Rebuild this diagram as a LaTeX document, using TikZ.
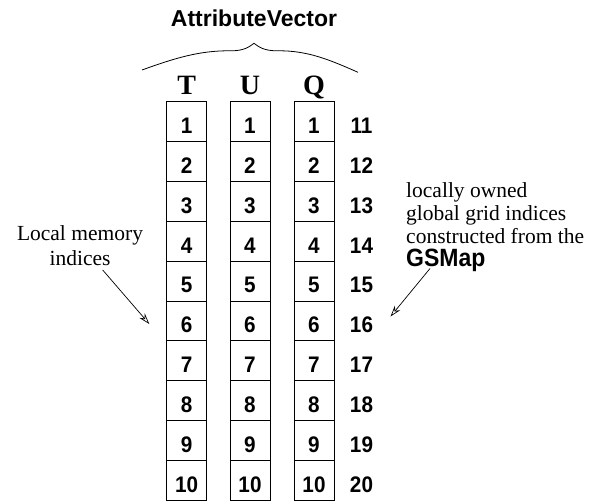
\documentclass[tikz,border=0pt]{standalone}
\usepackage{fontspec}
\setmainfont{Liberation Serif}
\setsansfont{Liberation Sans}
\newfontfamily\narrowsans[FakeStretch=0.92]{Liberation Sans}
\usetikzlibrary{arrows.meta}
\begin{document}
\begin{tikzpicture}[x=1pt,y=-1pt,
  cell/.style={draw, line width=0.9pt, minimum width=40pt, minimum height=39.9pt, inner sep=0pt, outer sep=0pt},
  digit/.style={font=\narrowsans\bfseries\fontsize{22.5}{26}\selectfont, inner sep=0pt, anchor=base},
  head/.style={font=\rmfamily\bfseries\fontsize{28}{32}\selectfont, inner sep=0pt, anchor=base},
  note/.style={font=\rmfamily\fontsize{21.5}{25}\selectfont, inner sep=0pt, anchor=base},
  pointer/.style={line width=0.7pt, -{Stealth[open, length=11pt, width=7pt]}}]
\useasboundingbox (0,0) rectangle (604,503);
% title and brace
\node[font=\sffamily\bfseries\fontsize{23}{26}\selectfont, inner sep=0pt, anchor=base] (title) at (254,26.7) {AttributeVector};
\draw[line width=0.8pt] (142,70) .. controls (175,58) and (200,50.5) .. (230,50.8)
  .. controls (244,51) and (249,47) .. (254,43.3)
  .. controls (259,47) and (264,51) .. (278,50.8)
  .. controls (308,50.5) and (330,60) .. (358,72.3);
% column headers
\node[head] (hT) at (186.7,94) {T};
\node[head] (hU) at (250,94) {U};
\node[head] (hQ) at (314,94) {Q};
% cells
\foreach \i in {1,...,10} {
  \pgfmathsetmacro{\yc}{101.5+(\i-0.5)*39.9}
  \pgfmathsetmacro{\yb}{101.5+(\i-1)*39.9+31.8}
  \node[cell] (T\i) at (186.7,\yc) {};
  \node[cell] (U\i) at (250,\yc) {};
  \node[cell] (Q\i) at (314,\yc) {};
  \node[digit] (tT\i) at (186.7,\yb) {\i};
  \node[digit] (tU\i) at (250,\yb) {\i};
  \node[digit] (tQ\i) at (314,\yb) {\i};
  \pgfmathtruncatemacro{\g}{\i+10}
  \node[digit] (g\i) at (361.5,\yb) {\g};
}
% left note
\node[note] (lm1) at (80,240) {Local memory};
\node[note] (lm2) at (80,265) {indices};
\coordinate (la) at (102.7,270);
\coordinate (lb) at (149.3,324);
\draw[pointer] (la) -- (lb);
% right note
\node[note, anchor=base west] (r1) at (406,197) {locally owned};
\node[note, anchor=base west] (r2) at (406,220) {global grid indices};
\node[note, anchor=base west] (r3) at (406,243) {constructed from the};
\node[font=\narrowsans\bfseries\fontsize{25}{28}\selectfont, inner sep=0pt, anchor=base west] (r4) at (406,266.3) {GSMap};
\coordinate (ra) at (430,268.5);
\coordinate (rb) at (390.5,316.5);
\draw[pointer] (ra) -- (rb);
\end{tikzpicture}
\end{document}
